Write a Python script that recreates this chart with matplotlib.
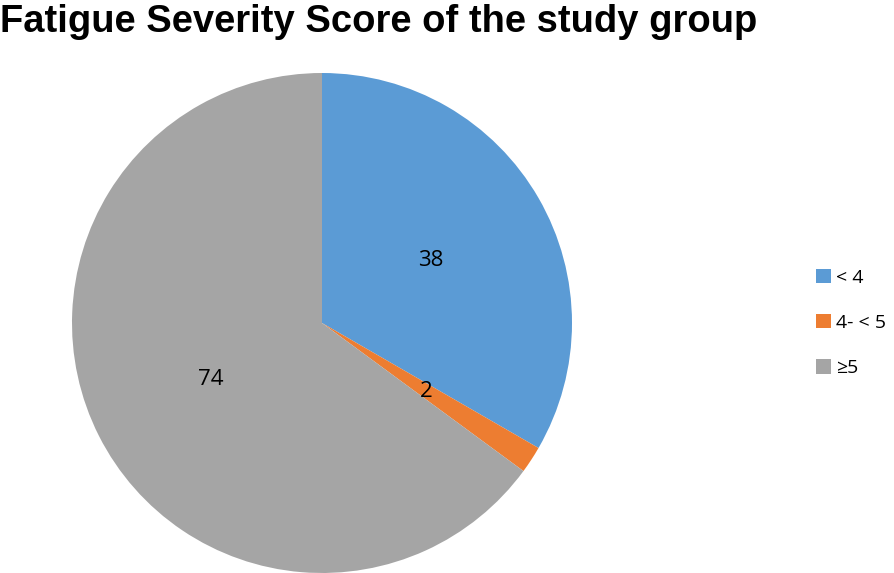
import matplotlib
matplotlib.use('Agg')
import matplotlib.pyplot as plt

categories = ['< 4', '4- < 5', '≥5']
values = [38, 2, 74]
colors = ['#5B9BD5', '#ED7D31', '#A5A5A5']
total = sum(values)

plt.rcParams['font.family'] = ['Open Sans', 'DejaVu Sans']

fig = plt.figure(figsize=(8.94, 5.73), dpi=100)
ax = fig.add_axes([72/894, 0.0, 500/894, 500/573])

wedges, texts, autotexts = ax.pie(values, colors=colors, startangle=90, counterclock=False,
                                  autopct=lambda p: '%d' % round(p*total/100),
                                  pctdistance=0.5, radius=1.0,
                                  wedgeprops={'linewidth': 0},
                                  textprops={'fontsize': 16, 'color': 'black'})
ax.set_xlim(-1, 1)
ax.set_ylim(-1, 1)
ax.set_aspect('equal')

title = fig.text(0.0, 1 - 22/573, 'Fatigue Severity Score of the study group',
                 fontsize=30, fontweight='bold', family=['Liberation Sans', 'DejaVu Sans'],
                 ha='left', va='center')
# shrink the title to the reference width (~757 px)
fig.canvas.draw()
w = title.get_window_extent().width
title.set_fontsize(30 * 757 / w)

leg = fig.legend(wedges, categories, loc='center left', bbox_to_anchor=(816/894, 1 - 323/573),
                 frameon=False, fontsize=14, handlelength=0.75, handleheight=0.75,
                 labelspacing=1.4, handletextpad=0.3, borderpad=0, borderaxespad=0)

fig.savefig('out.png', dpi=100)
